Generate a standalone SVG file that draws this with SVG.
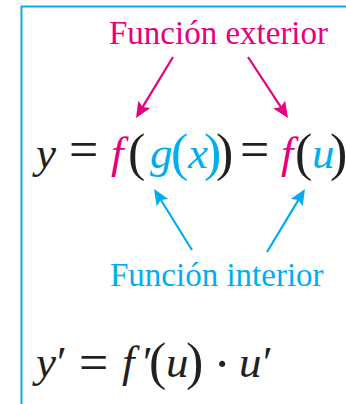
<svg xmlns="http://www.w3.org/2000/svg" width="346" height="404" viewBox="0 0 346 404">
<style>
.mag{fill:#E6007E}
.cya{fill:#00AEEF}
.it{font-style:italic}
.lm{stroke:#E6007E;stroke-width:2.2;fill:none}
.lc{stroke:#00AEEF;stroke-width:2.2;fill:none}
</style>
<rect width="346" height="404" fill="#fff"/>
<path d="M21.5,404 V6.5 H346" stroke="#00AEEF" stroke-width="2" fill="none"/>
<g id="connectors">
<line class="lm" x1="173" y1="57" x2="142.7" y2="106.9"/>
<polygon class="mag" points="136,118 150.3,107.9 142.7,106.9 138.3,100.7"/>
<line class="lm" x1="248" y1="57" x2="280.9" y2="107.1"/>
<polygon class="mag" points="288,118 285.1,100.8 280.9,107.1 273.3,108.4"/>
<line class="lc" x1="192" y1="250" x2="160.9" y2="200"/>
<polygon class="cya" points="154,189 168.4,198.9 160.9,200 156.6,206.3"/>
<line class="lc" x1="267" y1="252" x2="298.3" y2="200.1"/>
<polygon class="cya" points="305,189 302.7,206.3 298.3,200.1 290.7,199.1"/>
</g>
<g id="outer-label" font-size="33"><text font-family="Liberation Serif" class="mag" x="109" y="44">Función exterior</text></g>
<g id="composition" font-size="45" fill="#231F20">
<text font-family="Liberation Serif" class="it" x="36" y="168">y</text>
<text font-family="Liberation Serif" font-size="52" x="69" y="166.5">=</text>
<text font-family="Liberation Serif" class="it mag" x="111" y="168">f</text>
<text font-family="Liberation Serif" font-size="52" x="128" y="170">(</text>
<text font-family="Liberation Serif" class="it cya" x="150" y="168">g</text>
<text font-family="Liberation Serif" font-size="52" class="cya" x="171" y="170">(</text>
<text font-family="Liberation Serif" class="it cya" x="188" y="168">x</text>
<text font-family="Liberation Serif" font-size="52" class="cya" x="204" y="170">)</text>
<text font-family="Liberation Serif" font-size="52" x="216" y="170">)</text>
<text font-family="Liberation Serif" font-size="52" x="240" y="166.5">=</text>
<text font-family="Liberation Serif" class="it mag" x="281" y="168">f</text>
<text font-family="Liberation Serif" font-size="52" x="295" y="170">(</text>
<text font-family="Liberation Serif" class="it cya" x="312" y="168">u</text>
<text font-family="Liberation Serif" font-size="52" x="330" y="170">)</text>
</g>
<g id="inner-label" font-size="33"><text font-family="Liberation Serif" class="cya" x="110" y="286">Función interior</text></g>
<g id="derivative" font-size="45" fill="#231F20">
<text font-family="Liberation Serif" class="it" x="36" y="377">y</text>
<text font-family="Liberation Serif" x="57" y="377">′</text>
<text font-family="Liberation Serif" font-size="52" x="79" y="380">=</text>
<text font-family="Liberation Serif" class="it" x="122" y="377">f</text>
<text font-family="Liberation Serif" x="143" y="377">′</text>
<text font-family="Liberation Serif" font-size="52" x="149" y="379">(</text>
<text font-family="Liberation Serif" class="it" x="166" y="377">u</text>
<text font-family="Liberation Serif" font-size="52" x="186" y="379">)</text>
<text font-family="Liberation Serif" font-size="52" x="213.5" y="380.5">·</text>
<text font-family="Liberation Serif" class="it" x="239" y="377">u</text>
<text font-family="Liberation Serif" x="263" y="377">′</text>
</g>
</svg>
